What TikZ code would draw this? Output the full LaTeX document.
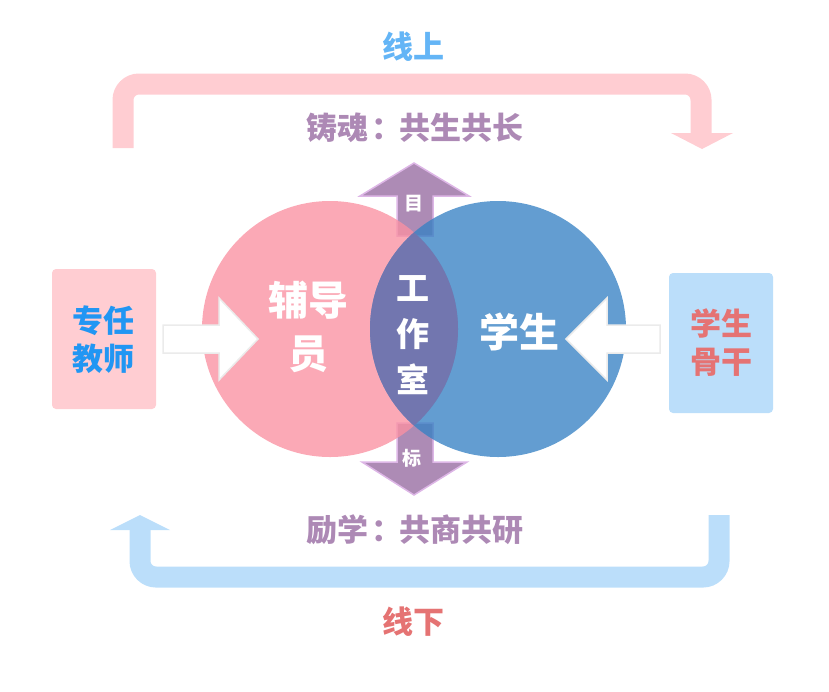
\documentclass[tikz,border=0pt]{standalone}
\usepackage{fontspec}
\setmainfont{Noto Sans CJK SC}
\definecolor{bandpink}{RGB}{255,205,210}
\definecolor{bandblue}{RGB}{187,222,250}
\definecolor{txtpurple}{RGB}{173,137,181}
\definecolor{txtblue}{RGB}{100,181,246}
\definecolor{txtred}{RGB}{229,115,115}
\definecolor{boxtxtblue}{RGB}{33,150,243}
\definecolor{circpink}{RGB}{250,145,162}
\definecolor{circblue}{RGB}{55,130,196}
\definecolor{lenscol}{RGB}{115,116,174}
\definecolor{arrpurple}{RGB}{173,139,181}
\definecolor{arredge}{RGB}{221,182,230}
\tikzset{
  big/.style={font=\fontsize{31}{38}\selectfont\bfseries, inner sep=0pt, align=center},
  huge/.style={font=\fontsize{40}{53}\selectfont\bfseries, inner sep=0pt, align=center, text=white},
  small/.style={font=\fontsize{19}{22}\selectfont\bfseries, inner sep=0pt, text=white},
  band/.style={line width=21pt, rounded corners=16pt},
  purplearrow/.style={fill=arrpurple, draw=arredge, line width=1.5pt, line join=miter},
  whitearrow/.style={fill=white, draw=black!8, line width=1.5pt, line join=miter},
  sidebox/.style={rounded corners=4pt, minimum width=104pt, minimum height=140pt, inner sep=0pt}
}
\begin{document}
\begin{tikzpicture}[x=1pt,y=-1pt]
\path[use as bounding box] (0,0) rectangle (829,691);
% top band (pink)
\coordinate (t1) at (123,148);
\coordinate (t2) at (123,84);
\coordinate (t3) at (701,84);
\coordinate (t4) at (701,134);
\draw[band, draw=bandpink] (t1) -- (t2) -- (t3) -- (t4);
\fill[bandpink] (671,133) -- (733,133) -- (702,149) -- cycle;
% bottom band (blue)
\coordinate (b1) at (140,529);
\coordinate (b2) at (140,577);
\coordinate (b3) at (719,577);
\coordinate (b4) at (719,515);
\draw[band, draw=bandblue] (b1) -- (b2) -- (b3) -- (b4);
\fill[bandblue] (110,530) -- (170,530) -- (140,515) -- cycle;
% texts
\node[big, text=txtblue] (up) at (413,47) {线上};
\node[big, text=txtred] (down) at (413,622) {线下};
\node[big, text=txtpurple] (zhuhun) at (415,128) {铸魂\hspace{3pt}：\hspace{-3pt}共生共长};
\node[big, text=txtpurple] (lixue) at (415,530) {励学\hspace{3pt}：\hspace{-3pt}共商共研};
% up / down arrows
\draw[purplearrow] (397,236) -- (397,196) -- (360,196) -- (414,163) -- (469,196) -- (433,196) -- (433,236) -- cycle;
\draw[purplearrow] (397,423) -- (397,462) -- (362,462) -- (414,495) -- (467,462) -- (433,462) -- (433,423) -- cycle;
% circles
\fill[circpink, fill opacity=0.78] (330,329) circle (128);
\fill[circblue, fill opacity=0.78] (498,329) circle (128);
\begin{scope}
  \clip (330,329) circle (128);
  \fill[lenscol, fill opacity=0.93] (498,329) circle (128);
\end{scope}
\node[small] (mu) at (414,204) {目};
\node[small] (biao) at (412,458) {标};
% side boxes
\node[sidebox, fill=bandpink] (teacher) at (104,339) {};
\node[big, text=boxtxtblue] (teachertxt) at (103,340) {专任\\教师};
\node[sidebox, fill=bandblue] (student) at (721,343) {};
\node[big, text=txtred] (studenttxt) at (721,343) {学生\\骨干};
% white arrows
\draw[whitearrow] (163,325) -- (219,325) -- (219,298) -- (258,339) -- (219,380) -- (219,353) -- (163,353) -- cycle;
\draw[whitearrow] (660,325) -- (607,325) -- (607,298) -- (566,339) -- (607,380) -- (607,353) -- (660,353) -- cycle;
% circle texts
\node[huge] (fudao) at (308,327) {辅导\\员};
\node[huge] (xuesheng) at (519,332) {学生};
\node[font=\fontsize{33}{46}\selectfont\bfseries, inner sep=0pt, align=center, text=white] (gzs) at (413,335) {工\\作\\室};
\end{tikzpicture}
\end{document}
